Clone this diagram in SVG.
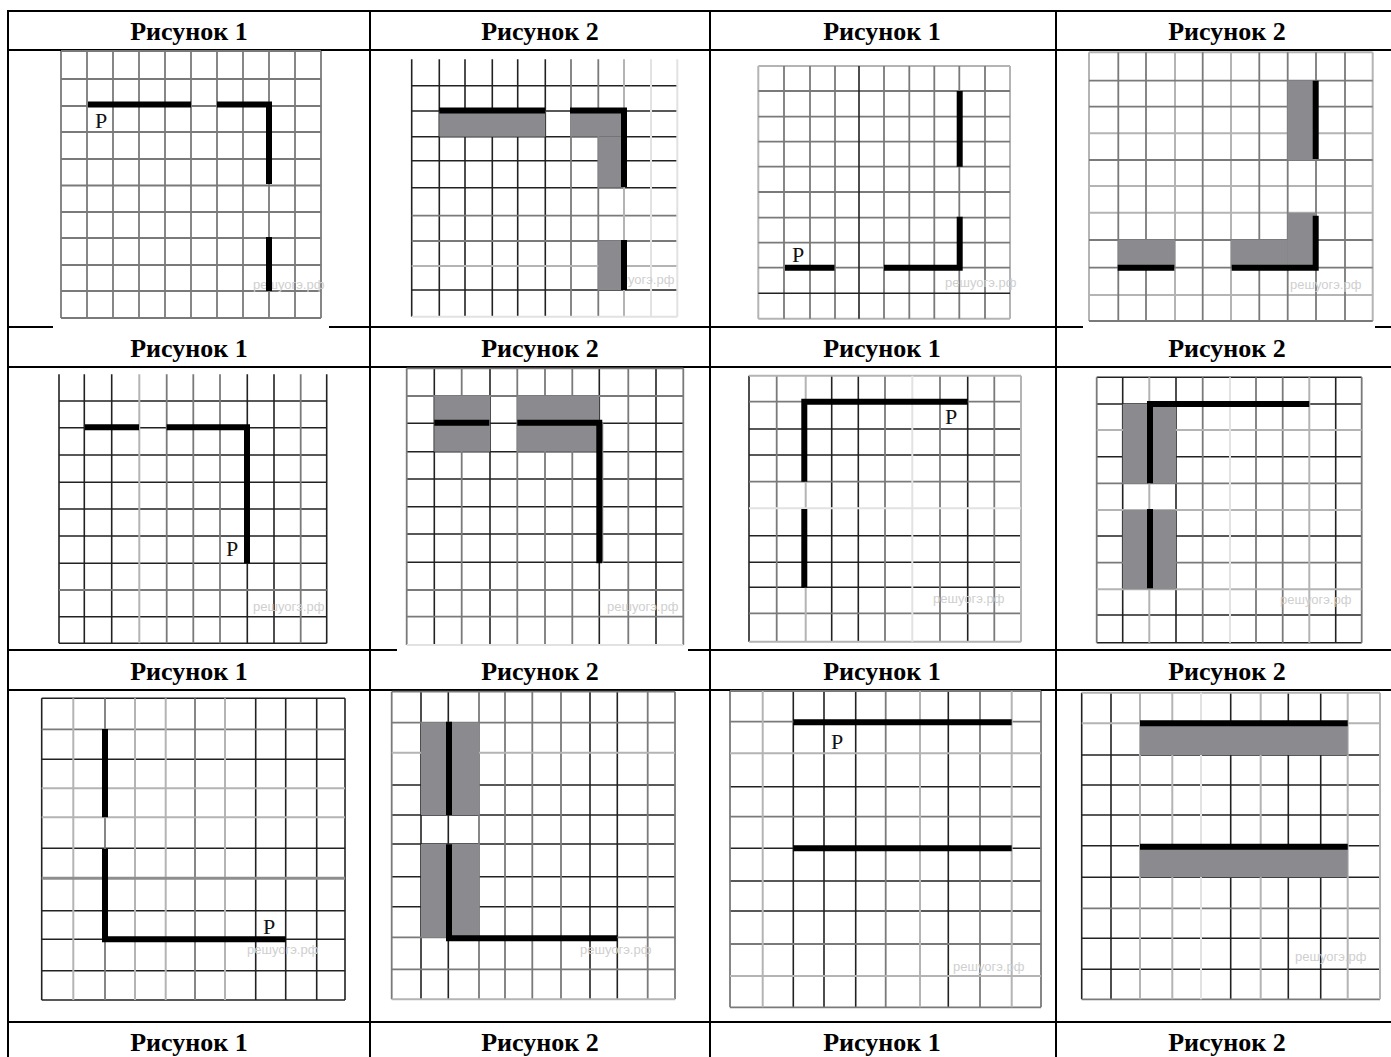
<svg xmlns="http://www.w3.org/2000/svg" width="1391" height="1057" viewBox="0 0 1391 1057">
<style>
.b{stroke:#000;stroke-width:2;fill:none}
.h{font-family:"Liberation Serif","Times New Roman",serif;font-weight:bold;font-size:26px;text-anchor:middle;fill:#000}
.d{stroke:#222;stroke-width:1.6;fill:none}
.m{stroke:#7a7a7a;stroke-width:1.8;fill:none}
.l{stroke:#b4b4b4;stroke-width:2;fill:none}
.x{stroke:#e2e2e2;stroke-width:2;fill:none}
.t{stroke:#000;stroke-width:6;fill:none;stroke-linejoin:miter;stroke-linecap:butt}
.s{fill:#8b8b8f}
.p{font-family:"Liberation Serif","Times New Roman",serif;font-size:22px;fill:#111}
.w{font-family:"Liberation Sans",Arial,sans-serif;font-size:13px;fill:#cfcfcf}
.bg{fill:#fff}
</style>
<rect width="1391" height="1057" fill="#fff"/>
<g id="table">
<path class="b" d="M7 11H1392M7 50H1392M7 327H1392M7 367H1392M7 650H1392M7 690H1392M7 1022H1392"/>
<path class="b" d="M8 10V1057M370 10V1057M710 10V1057M1056 10V1057"/>
</g>
<g id="headers">
<text class="h" x="189" y="40">Рисунок 1</text><text class="h" x="540" y="40">Рисунок 2</text><text class="h" x="882" y="40">Рисунок 1</text><text class="h" x="1227" y="40">Рисунок 2</text>
<text class="h" x="189" y="357">Рисунок 1</text><text class="h" x="540" y="357">Рисунок 2</text><text class="h" x="882" y="357">Рисунок 1</text><text class="h" x="1227" y="357">Рисунок 2</text>
<text class="h" x="189" y="680">Рисунок 1</text><text class="h" x="540" y="680">Рисунок 2</text><text class="h" x="882" y="680">Рисунок 1</text><text class="h" x="1227" y="680">Рисунок 2</text>
<text class="h" x="189" y="1051">Рисунок 1</text><text class="h" x="540" y="1051">Рисунок 2</text><text class="h" x="882" y="1051">Рисунок 1</text><text class="h" x="1227" y="1051">Рисунок 2</text>
</g>

<g id="grid-r1c1">
<rect class="bg" x="53" y="51.5" width="276" height="277"/>
<path class="m" d="M61 51V318M87 51V318M113 51V318M139 51V318M165 51V318M191 51V318M217 51V318M243 51V318M269 51V318M295 51V318M321 51V318M61 51H321M61 79H321M61 106H321M61 132H321M61 159H321M61 185.5H321M61 212H321M61 238H321M61 265H321M61 291H321M61 318H321"/>
<text class="w" x="253" y="289">решуогэ.рф</text>
<path class="t" d="M88 104.5H191M217 104.5H269V184M269 237V291"/>
<text class="p" x="95" y="128">P</text>
</g>

<g id="grid-r1c2">
<path class="d" d="M411.7 59.3V316.7M439.3 59.3V316.7M465 59.3V316.7M492.3 59.3V316.7M517.7 59.3V316.7M545.3 59.3V316.7M411.7 85.7H677.3M411.7 111H677.3M411.7 136.7H677.3M411.7 160.7H677.3M411.7 187.7H677.3M411.7 290H677.3"/>
<path class="m" d="M571 59.3V316.7M598.3 59.3V316.7M411.7 215.7H677.3M411.7 241H677.3"/>
<path class="l" d="M624 59.3V316.7M411.7 266H677.3"/>
<path class="x" d="M651 59.3V316.7M677.3 59.3V316.7M411.7 316.7H677.3"/>
<text class="w" x="603" y="284">решуогэ.рф</text>
<rect class="s" x="439.3" y="111" width="106" height="25.7"/>
<rect class="s" x="571" y="111" width="53" height="25.7"/>
<rect class="s" x="598.3" y="136.7" width="25.7" height="51"/>
<rect class="s" x="598.3" y="241" width="25.7" height="49"/>
<path class="t" d="M439.3 110.5H545M570 110.5H624V187M624 240V290"/>
</g>

<g id="grid-r1c3">
<path class="l" d="M758.3 66V318.7M1010 66V318.7M758.3 66H1010M758.3 318.7H1010"/>
<path class="m" d="M784 66V318.7M810 66V318.7M835 66V318.7M884 66V318.7M909.3 66V318.7M934.3 66V318.7M959.3 66V318.7M985 66V318.7M758.3 91H1010M758.3 116.7H1010M758.3 141.7H1010M758.3 166.7H1010M758.3 192H1010M758.3 217.7H1010M758.3 242.7H1010M758.3 267.7H1010"/>
<path class="d" d="M859 66V318.7M758.3 293.3H1010"/>
<text class="w" x="945" y="287">решуогэ.рф</text>
<path class="t" d="M959.7 91V166.7M959.7 216.7V267.7H884M834.5 267.7H785"/>
<text class="p" x="792" y="262">P</text>
</g>

<g id="grid-r1c4">
<rect class="bg" x="1083" y="51.5" width="292" height="277"/>
<path class="l" d="M1089 52.3V321M1175 52.3V321M1231 52.3V321M1372.7 52.3V321M1089 52.3H1372.7M1089 133.3H1372.7M1089 186H1372.7M1089 212.7H1372.7M1089 295H1372.7"/>
<path class="m" d="M1118.3 52.3V321M1146 52.3V321M1202.7 52.3V321M1259.3 52.3V321M1287.7 52.3V321M1316 52.3V321M1345 52.3V321M1089 80.7H1372.7M1089 106.7H1372.7M1089 160H1372.7M1089 240H1372.7M1089 267.7H1372.7M1089 321H1372.7"/>
<text class="w" x="1290" y="289">решуогэ.рф</text>
<rect class="s" x="1287.7" y="80.7" width="28.3" height="79.3"/>
<rect class="s" x="1287.7" y="212.7" width="28.3" height="55"/>
<rect class="s" x="1231" y="240" width="56.7" height="27.7"/>
<rect class="s" x="1118.3" y="240" width="56.7" height="27.7"/>
<path class="t" d="M1315.7 80.7V159M1315.7 215.7V267.7H1231.7M1174.3 267.7H1117.7"/>
</g>

<g id="grid-r2c1">
<path class="d" d="M59 374.3V643.3M84.3 374.3V643.3M111.7 374.3V643.3M247.3 374.3V643.3M274 374.3V643.3M326.7 374.3V643.3M59 401H326.7M59 427.7H326.7M59 455H326.7M59 482.3H326.7M59 509H326.7M59 536H326.7M59 563.3H326.7M59 616.7H326.7M59 643.3H326.7"/>
<path class="m" d="M166.7 374.3V643.3M193.3 374.3V643.3M220 374.3V643.3M300.7 374.3V643.3M59 590H326.7"/>
<path class="l" d="M139.3 374.3V643.3"/>
<text class="w" x="253" y="611">решуогэ.рф</text>
<path class="t" d="M85 427.3H139M166.7 427.3H247V563.3"/>
<text class="p" x="226" y="556">P</text>
</g>

<g id="grid-r2c2">
<rect class="bg" x="397" y="368" width="291" height="283"/>
<path class="d" d="M434.3 368.3V645M490 368.3V645M599.3 368.3V645M656 368.3V645M406.7 423.3H683.3M406.7 451.7H683.3M406.7 479H683.3M406.7 506.7H683.3M406.7 534H683.3M406.7 562.3H683.3"/>
<path class="m" d="M406.7 368.3V645M461.7 368.3V645M517.3 368.3V645M545 368.3V645M572.3 368.3V645M628.3 368.3V645M683.3 368.3V645M406.7 368.3H683.3M406.7 396H683.3M406.7 590H683.3M406.7 616.7H683.3"/>
<path class="x" d="M406.7 645H683.3"/>
<text class="w" x="607" y="611">решуогэ.рф</text>
<rect class="s" x="434.3" y="396" width="55.7" height="55.7"/>
<rect class="s" x="517.3" y="396" width="82" height="55.7"/>
<rect class="s" x="599.3" y="423" width="4" height="140"/>
<path class="t" d="M434.3 422.7H489.3M517.3 422.7H599.3V563.3"/>
</g>

<g id="grid-r2c3">
<path class="d" d="M749 375.7V641.7M831.7 375.7V641.7M858.3 375.7V641.7M967.7 375.7V641.7M749 429H1021M749 455H1021M749 535.7H1021M749 562.3H1021M749 587.3H1021"/>
<path class="m" d="M776.7 375.7V641.7M885 375.7V641.7M940 375.7V641.7M994.3 375.7V641.7M749 401.7H1021M749 481.7H1021M749 613.3H1021"/>
<path class="l" d="M805.7 375.7V641.7M1021 375.7V641.7M749 375.7H1021M749 641.7H1021"/>
<path class="x" d="M912.3 375.7V641.7M749 508.3H1021"/>
<text class="w" x="933" y="603">решуогэ.рф</text>
<path class="t" d="M967.7 401.7H804.3V481.7M804.3 509V587.7"/>
<text class="p" x="945" y="424">P</text>
</g>

<g id="grid-r2c4">
<path class="d" d="M1122.7 377.3V642.7M1176 377.3V642.7M1335.7 377.3V642.7M1096.7 377.3H1361.7M1096.7 404H1361.7M1096.7 456.7H1361.7M1096.7 536H1361.7M1096.7 615H1361.7M1096.7 642.7H1361.7"/>
<path class="m" d="M1096.7 377.3V642.7M1202.7 377.3V642.7M1256 377.3V642.7M1282.7 377.3V642.7M1361.7 377.3V642.7M1096.7 483.3H1361.7M1096.7 562.7H1361.7"/>
<path class="l" d="M1149.3 377.3V642.7M1309.3 377.3V642.7M1096.7 430H1361.7M1096.7 510H1361.7M1096.7 589.3H1361.7"/>
<path class="x" d="M1230 377.3V642.7"/>
<text class="w" x="1280" y="604">решуогэ.рф</text>
<rect class="s" x="1122.7" y="404" width="53.3" height="79.3"/>
<rect class="s" x="1122.7" y="510" width="53.3" height="79.3"/>
<path class="t" d="M1309.3 404H1150V483.3M1150 509V588.3"/>
</g>

<g id="grid-r3c1">
<path class="d" d="M41.7 698.3V1000M255.7 698.3V1000M285.7 698.3V1000M316.7 698.3V1000M345 698.3V1000M41.7 698.3H345M41.7 759.3H345M41.7 848.3H345M41.7 910.7H345M41.7 939.3H345M41.7 970.7H345M41.7 1000H345"/>
<path class="m" d="M105 698.3V1000M195 698.3V1000M41.7 729.3H345"/>
<path class="l" d="M73.3 698.3V1000M135 698.3V1000M165.7 698.3V1000M225 698.3V1000M41.7 788.3H345M41.7 817.3H345"/>
<path d="M41.7 878.3H345" stroke="#8e8e8e" stroke-width="3" fill="none"/>
<text class="w" x="247" y="954">решуогэ.рф</text>
<path class="t" d="M105 729V817.3M105 849V939.3H285.7"/>
<text class="p" x="263" y="934">P</text>
</g>

<g id="grid-r3c2">
<path class="d" d="M421 691.7V999.3M448.3 691.7V999.3M590 691.7V999.3M617.3 691.7V999.3M391.7 785H675M391.7 815H675M391.7 844H675M391.7 876.7H675M391.7 906.7H675"/>
<path class="m" d="M391.7 691.7V999.3M479 691.7V999.3M505 691.7V999.3M532.3 691.7V999.3M561 691.7V999.3M647.7 691.7V999.3M675 691.7V999.3M391.7 691.7H675M391.7 722.7H675M391.7 937.3H675M391.7 969.3H675"/>
<path class="l" d="M391.7 752.7H675M391.7 999.3H675"/>
<text class="w" x="580" y="954">решуогэ.рф</text>
<rect class="s" x="421" y="722.7" width="58" height="92.3"/>
<rect class="s" x="421" y="844" width="58" height="93.3"/>
<path class="t" d="M449 721.7V815M449 844.3V938.3H617.3"/>
</g>

<g id="grid-r3c3">
<path class="d" d="M793.3 691V1007.3M824 691V1007.3M855.7 691V1007.3M948.3 691V1007.3M730 786.7H1041M730 848.3H1041M730 881H1041M730 911H1041"/>
<path class="m" d="M730 691V1007.3M885.7 691V1007.3M980 691V1007.3M1041 691V1007.3M730 691H1041M730 721.7H1041M730 816.7H1041M730 944H1041M730 1007.3H1041"/>
<path class="l" d="M762.7 691V1007.3M920 691V1007.3M1011.7 691V1007.3M730 753.3H1041M730 976H1041"/>
<text class="w" x="953" y="971">решуогэ.рф</text>
<path class="t" d="M793.3 722.3H1011.7M793.3 848.3H1011.7"/>
<text class="p" x="831" y="749">P</text>
</g>

<g id="grid-r3c4">
<path class="d" d="M1081.7 692.7V999.3M1111 692.7V999.3M1230.7 692.7V999.3M1288.3 692.7V999.3M1320.7 692.7V999.3M1081.7 755H1380M1081.7 785H1380M1081.7 815H1380M1081.7 845.7H1380M1081.7 877.3H1380M1081.7 938.3H1380M1081.7 969.3H1380"/>
<path class="m" d="M1081.7 908.3H1380M1081.7 999.3H1380"/>
<path class="l" d="M1140 692.7V999.3M1172.3 692.7V999.3M1260.7 692.7V999.3M1347.7 692.7V999.3M1380 692.7V999.3M1081.7 692.7H1380M1081.7 723.3H1380"/>
<path class="x" d="M1201 692.7V999.3"/>
<text class="w" x="1295" y="961">решуогэ.рф</text>
<rect class="s" x="1140" y="723.3" width="207.7" height="31.7"/>
<rect class="s" x="1140" y="845.7" width="207.7" height="31.6"/>
<path class="t" d="M1140 723.3H1347.7M1140 846.7H1347.7"/>
</g>
</svg>
